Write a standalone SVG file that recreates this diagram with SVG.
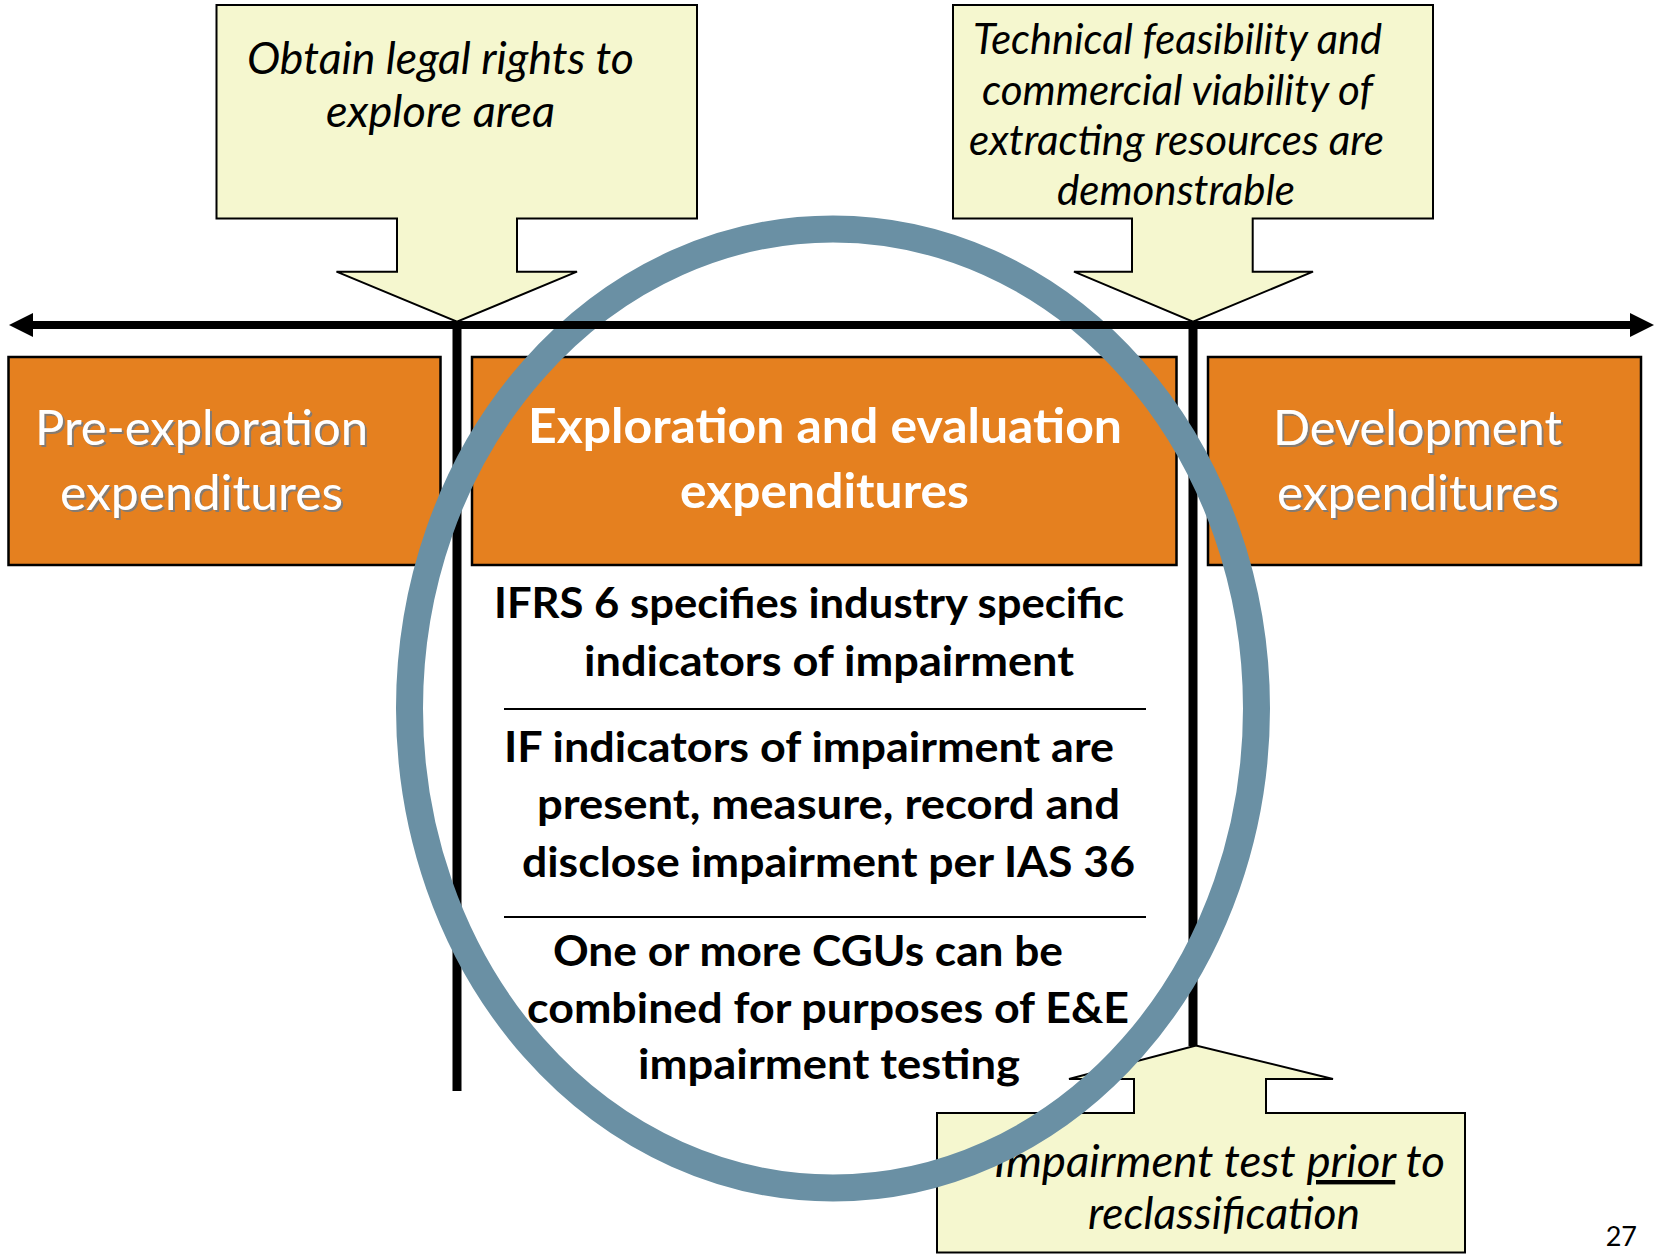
<svg xmlns="http://www.w3.org/2000/svg" width="1656" height="1254" viewBox="0 0 1656 1254">
<defs>
  <style>
    .callout{fill:#F5F7CF;stroke:#000;stroke-width:2}
    .ital{font-family:Lato,"Liberation Sans",sans-serif;font-style:italic;fill:#000}
    .box{fill:#E5801F;stroke:#000;stroke-width:2.5}
    .boxtxt{font-family:Lato,"Liberation Sans",sans-serif;font-size:48px;fill:#fff}
    .bold{font-family:Lato,"Liberation Sans",sans-serif;font-weight:bold;font-size:42.5px;fill:#000}
    .axis{stroke:#000;stroke-width:8;fill:none}
    .vline{stroke:#000;stroke-width:9;fill:none}
    .sep{stroke:#000;stroke-width:2}
  </style>
  <filter id="ts" x="-5%" y="-20%" width="110%" height="140%">
    <feDropShadow dx="2" dy="2" stdDeviation="0.6" flood-color="#7a7a7a" flood-opacity="0.9"/>
  </filter>
  <marker id="ah" viewBox="0 0 24 24" refX="2" refY="12" markerWidth="24" markerHeight="24" markerUnits="userSpaceOnUse" orient="auto-start-reverse">
    <path d="M0,0 L24,12 L0,24 Z" fill="#000"/>
  </marker>
</defs>
<rect width="1656" height="1254" fill="#fff"/>

<g id="callout-legal-rights">
  <path class="callout" d="M216.5,5 H697 V218.5 H517 V271.7 H577 L457,321.7 L336.5,271.7 H397 V218.5 H216.5 Z"/>
  <text class="ital" font-size="44" x="247" y="74" textLength="387" lengthAdjust="spacingAndGlyphs">Obtain legal rights to</text>
  <text class="ital" font-size="44" x="326" y="127" textLength="229" lengthAdjust="spacingAndGlyphs">explore area</text>
</g>

<g id="callout-feasibility">
  <path class="callout" d="M953,5 H1433 V218.5 H1252.7 V271.7 H1313 L1193,321.7 L1074,271.7 H1132 V218.5 H953 Z"/>
  <text class="ital" font-size="42" x="973" y="54" textLength="409" lengthAdjust="spacingAndGlyphs">Technical feasibility and</text>
  <text class="ital" font-size="42" x="982" y="105" textLength="391" lengthAdjust="spacingAndGlyphs">commercial viability of</text>
  <text class="ital" font-size="42" x="969" y="155" textLength="415" lengthAdjust="spacingAndGlyphs">extracting resources are</text>
  <text class="ital" font-size="42" x="1057" y="205" textLength="238" lengthAdjust="spacingAndGlyphs">demonstrable</text>
</g>

<g id="callout-impairment-test">
  <path class="callout" d="M937,1113 H1134 V1079 H1069 L1196,1045.5 L1333,1079 H1266 V1113 H1465 V1252.5 H937 Z"/>
  <text class="ital" font-size="44" x="994" y="1177" textLength="451" lengthAdjust="spacingAndGlyphs">Impairment test <tspan text-decoration="underline">prior</tspan> to</text>
  <text class="ital" font-size="44" x="1088" y="1229" textLength="272" lengthAdjust="spacingAndGlyphs">reclassification</text>
</g>

<g id="box-pre-exploration">
  <rect class="box" x="8.5" y="357" width="432" height="208"/>
  <text class="boxtxt" filter="url(#ts)" x="35" y="445" textLength="333" lengthAdjust="spacingAndGlyphs">Pre-exploration</text>
  <text class="boxtxt" filter="url(#ts)" x="60" y="510" textLength="283" lengthAdjust="spacingAndGlyphs">expenditures</text>
</g>

<g id="box-exploration-evaluation">
  <rect class="box" x="472" y="357" width="704.5" height="208"/>
  <text class="boxtxt" font-weight="bold" x="528" y="443" textLength="594" lengthAdjust="spacingAndGlyphs">Exploration and evaluation</text>
  <text class="boxtxt" font-weight="bold" x="680" y="508" textLength="289" lengthAdjust="spacingAndGlyphs">expenditures</text>
</g>

<g id="box-development">
  <rect class="box" x="1208" y="357" width="433" height="208"/>
  <text class="boxtxt" filter="url(#ts)" x="1273" y="445" textLength="289" lengthAdjust="spacingAndGlyphs">Development</text>
  <text class="boxtxt" filter="url(#ts)" x="1277" y="510" textLength="282" lengthAdjust="spacingAndGlyphs">expenditures</text>
</g>

<g id="impairment-notes">
  <text class="bold" x="494" y="618" textLength="630" lengthAdjust="spacingAndGlyphs">IFRS 6 specifies industry specific</text>
  <text class="bold" x="584" y="676" textLength="490" lengthAdjust="spacingAndGlyphs">indicators of impairment</text>
  <line class="sep" x1="504" y1="709" x2="1146" y2="709"/>
  <text class="bold" x="504" y="762" textLength="610" lengthAdjust="spacingAndGlyphs">IF indicators of impairment are</text>
  <text class="bold" x="537" y="819" textLength="583" lengthAdjust="spacingAndGlyphs">present, measure, record and</text>
  <text class="bold" x="522" y="877" textLength="613" lengthAdjust="spacingAndGlyphs">disclose impairment per IAS 36</text>
  <line class="sep" x1="504" y1="917" x2="1146" y2="917"/>
  <text class="bold" x="553" y="966" textLength="510" lengthAdjust="spacingAndGlyphs">One or more CGUs can be</text>
  <text class="bold" x="527" y="1023" textLength="602" lengthAdjust="spacingAndGlyphs">combined for purposes of E&amp;E</text>
  <text class="bold" x="638" y="1079" textLength="382" lengthAdjust="spacingAndGlyphs">impairment testing</text>
</g>

<g id="connectors">
  <line class="vline" x1="457" y1="325" x2="457" y2="1091"/>
  <line class="vline" x1="1193" y1="325" x2="1193" y2="1046"/>
</g>

<g id="highlight-ellipse">
  <ellipse cx="833" cy="708.5" rx="423.5" ry="479.5" fill="none" stroke="#6A90A4" stroke-width="27"/>
</g>

<g id="timeline-axis">
  <line class="axis" x1="31" y1="325" x2="1632" y2="325" marker-start="url(#ah)" marker-end="url(#ah)"/>
</g>

<text x="1637" y="1246" text-anchor="end" font-family="Lato,'Liberation Sans',sans-serif" font-size="27" fill="#000">27</text>
</svg>
